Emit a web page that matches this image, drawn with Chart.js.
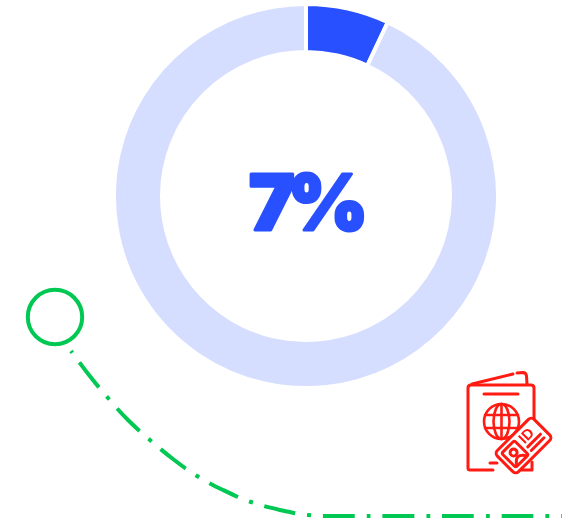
<!DOCTYPE html>
<html>
<head>
<meta charset="utf-8">
<title>Share</title>
<script src="https://cdn.jsdelivr.net/npm/chart.js@4"></script>
<style>
    html, body { margin: 0; padding: 0; background: #fff; }
    #stage { position: relative; width: 562px; height: 521px; overflow: hidden; }
    #ring_wrap { position: absolute; left: 112px; top: 2px; width: 388px; height: 388px; }
    #trail_wrap { position: absolute; left: 0; top: 0; width: 562px; height: 521px; }
    #passport { position: absolute; left: 0; top: 0; }
</style>
</head>
<body>
<div id="stage">
    <div id="trail_wrap"><canvas id="chart_trail" width="562" height="521"></canvas></div>
    <div id="ring_wrap"><canvas id="chart_ring" width="388" height="388"></canvas></div>
    <svg id="passport" width="562" height="521" fill="none" stroke="#ff1a12" stroke-width="3" stroke-linecap="round" stroke-linejoin="round">
        <path d="M472 384 L513 374 M517 373 L523 372.500 Q526 372.500 526.500 376 L527 384"/>
        <path d="M493 470 L470 470 Q468 470 468 468 L468 388 Q468 385 471 385 L531 385 Q534 385 534 388 L534 432"/>
        <path d="M484 394 L518 394"/>
        <path d="M490 463 L497 463"/>
        <path d="M532 462 L532 470 L522 470"/>
        <g stroke-width="2.600">
            <circle cx="501.500" cy="421.500" r="17.500"/>
            <ellipse cx="501.500" cy="421.500" rx="8" ry="17.500"/>
            <path d="M501.500 404 V439 M485 415 H518 M485 428 H518"/>
        </g>
        <g transform="translate(523.500 445.500) rotate(-45)">
            <rect x="-26" y="-15" width="52" height="30" rx="4" fill="#fff"/>
            <rect x="-21" y="-10" width="18" height="20" rx="2"/>
            <circle cx="-12" cy="-2" r="3.500"/>
            <path d="M-18 8 Q-12 0 -6 8"/>
            <path d="M2 4 H20 M2 9 H20"/>
            <text x="9" y="0" text-anchor="middle" font-family="Liberation Sans" font-weight="700" font-size="15" fill="#ff1a12" stroke="none">ID</text>
        </g>
    </svg>
</div>
<script>
// ring values, in percent
const share_labels = ['Share', 'Rest'];
const share_values = [7, 93];
const share_text = '7%';

// dash-dot trail and its starting ring, in page pixels
const trail_x = [71, 89, 108, 128, 150, 173, 197, 223, 251, 280, 308, 340, 400, 480, 562];
const trail_y = [351, 375, 398, 420, 440, 459, 476, 490, 502, 510, 515, 516, 516, 516, 516];
const ring_x = [55];
const ring_y = [317];

const BLUE = '#2850ff', PALE = '#d5deff', GREEN = '#00c853';

// draws the big number in the middle of the doughnut
const center_text = {
    id: 'center_text',
    afterDraw: chart => {
        const { ctx, chartArea } = chart;
        ctx.save();
        ctx.font = '900 77px Inter';
        ctx.letterSpacing = '-7px';
        ctx.fillStyle = BLUE;
        ctx.strokeStyle = BLUE;
        ctx.lineWidth = 3;
        ctx.lineJoin = 'round';
        ctx.textAlign = 'center';
        ctx.textBaseline = 'alphabetic';
        const cx = (chartArea.left + chartArea.right) / 2 - 1;
        const cy = (chartArea.top + chartArea.bottom) / 2;
        ctx.fillText(share_text, cx, cy + 33.500);
        ctx.strokeText(share_text, cx, cy + 33.500);
        ctx.restore();
    }
};

new Chart(document.getElementById('chart_ring').getContext('2d'), {
    type: 'doughnut',
    data: {
        labels: share_labels,
        datasets: [{
            data: share_values,
            backgroundColor: [BLUE, PALE],
            borderColor: '#fff',
            borderWidth: 4
        }]
    },
    options: {
        responsive: false,
        animation: false,
        cutout: 144,
        plugins: { legend: { display: false }, tooltip: { enabled: false } }
    },
    plugins: [center_text]
});

const to_points = (xs, ys) => xs.map((x, i) => ({ x: x, y: ys[i] }));

new Chart(document.getElementById('chart_trail').getContext('2d'), {
    type: 'scatter',
    data: {
        datasets: [
            {
                data: to_points(trail_x, trail_y),
                showLine: true,
                borderColor: GREEN,
                borderWidth: 4,
                borderDash: [31.800, 12, 3.800, 12],
                borderDashOffset: 45.500,
                tension: 0.4,
                pointRadius: 0
            },
            {
                data: to_points(ring_x, ring_y),
                pointRadius: 27.200,
                pointBorderWidth: 4,
                pointBorderColor: GREEN,
                pointBackgroundColor: 'transparent'
            }
        ]
    },
    options: {
        responsive: false,
        animation: false,
        layout: { padding: 0, autoPadding: false },
        scales: {
            x: { type: 'linear', display: false, min: 0, max: 562 },
            y: { type: 'linear', display: false, min: 0, max: 521, reverse: true }
        },
        plugins: { legend: { display: false }, tooltip: { enabled: false } }
    }
});
</script>
</body>
</html>
